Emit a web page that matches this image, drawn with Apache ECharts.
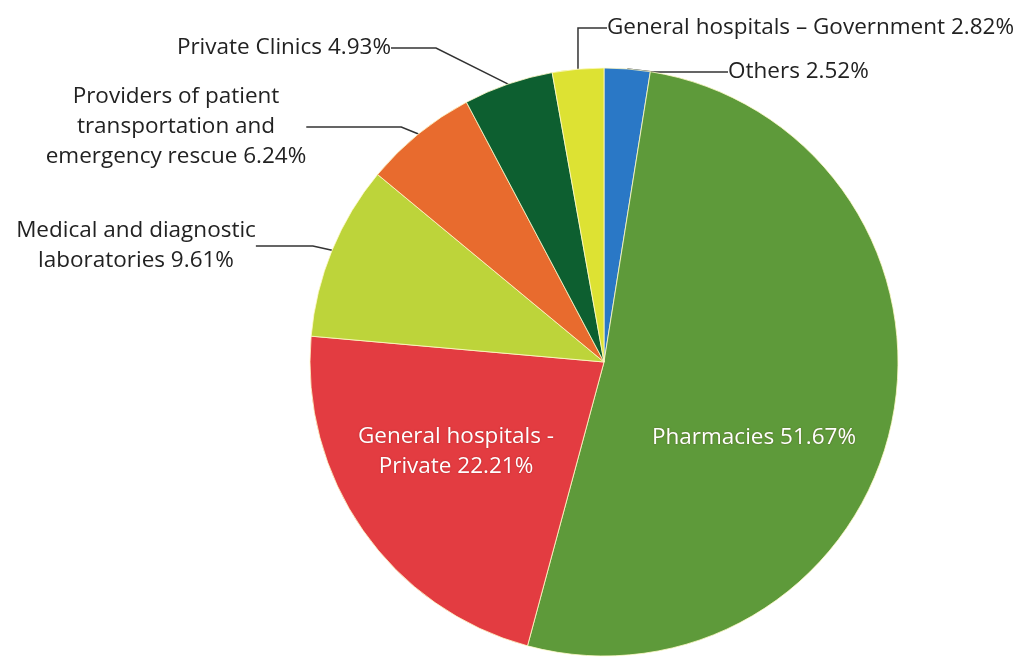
<!DOCTYPE html>
<html><head><meta charset="utf-8">
<script src="https://cdn.jsdelivr.net/npm/echarts@6/dist/echarts.min.js"></script>
<style>html,body{margin:0;padding:0;background:#fff}#c{width:1023px;height:659px}</style>
</head><body><div id="c"></div>
<script>
const categories = [
  'Others',
  'Pharmacies',
  'General hospitals -\nPrivate',
  'Medical and diagnostic\nlaboratories',
  'Providers of patient\ntransportation and\nemergency rescue',
  'Private Clinics',
  'General hospitals – Government'
];
const values = [2.52, 51.67, 22.21, 9.61, 6.24, 4.93, 2.82];
const colors = ['#2a78c6', '#5e9a3a', '#e33c41', '#bdd43a', '#e86b2e', '#0d5f30', '#dde233'];

// label layout (text anchor points, alignment, leader line length2)
const labelPos = [
  {x: 728, y: 72, align: 'left', l2: 75},
  {x: 754, y: 438, align: 'center', inside: true},
  {x: 456, y: 452, align: 'center', inside: true},
  {x: 136, y: 246, align: 'center', l2: 57},
  {x: 176, y: 127, align: 'center', l2: 95},
  {x: 391, y: 48, align: 'right', l2: 45},
  {x: 607, y: 28, align: 'left', l2: 30}
];

const chart = echarts.init(document.getElementById('c'));
const data = categories.map((n, i) => {
  const p = labelPos[i];
  const item = {name: n, value: values[i], itemStyle: {color: colors[i]}};
  if (p.inside) {
    item.label = {position: 'inside', color: '#fff', textShadowColor: 'rgba(90,0,0,0.35)', textShadowBlur: 2};
    item.labelLine = {show: false};
  } else {
    item.labelLine = {show: true, length: 10, length2: p.l2};
  }
  return item;
});

chart.setOption({
  animation: false,
  series: [{
    type: 'pie',
    center: [604, 362],
    radius: 294,
    startAngle: 90,
    clockwise: true,
    avoidLabelOverlap: false,
    data: data,
    itemStyle: {borderColor: 'rgba(255,250,200,0.8)', borderWidth: 1},
    label: {
      show: true,
      position: 'outside',
      fontFamily: 'Open Sans',
      fontSize: 22.5,
      lineHeight: 30,
      color: '#222',
      formatter: p => p.name + ' ' + p.value.toFixed(2) + '%'
    },
    labelLine: {lineStyle: {color: '#333', width: 1.5}, smooth: false},
    labelLayout: function (params) {
      const p = labelPos[params.dataIndex];
      return {x: p.x, y: p.y, align: p.align, verticalAlign: 'middle'};
    }
  }]
});
</script></body></html>
